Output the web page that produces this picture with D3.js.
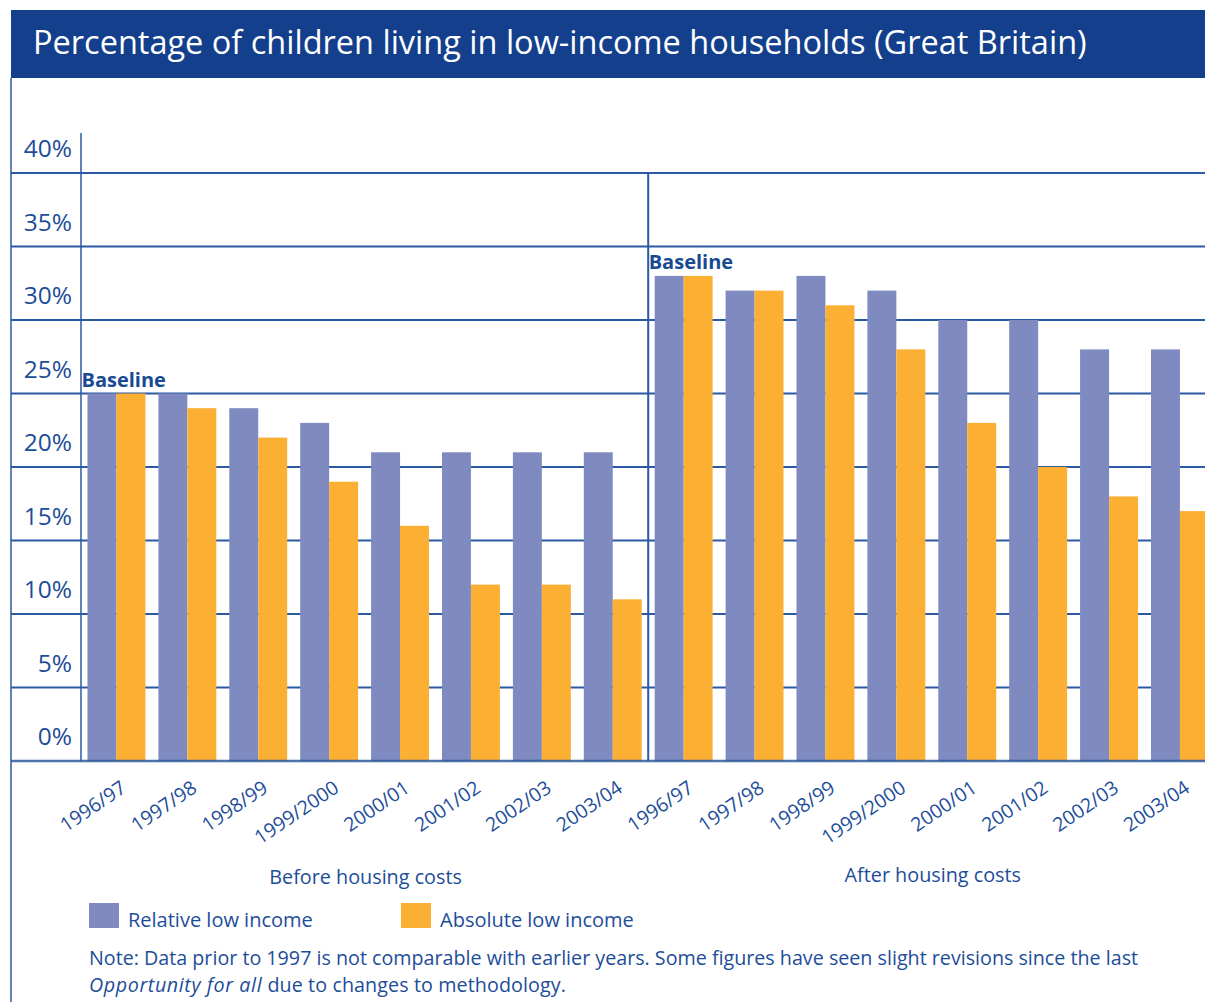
<!DOCTYPE html>
<html>
<head>
<meta charset="utf-8">
<script src="https://cdn.jsdelivr.net/npm/d3@7"></script>
<style>
  html, body { margin: 0; padding: 0; background: #fff; }
  svg { display: block; font-family: "Open Sans", "Noto Sans", sans-serif; }
</style>
</head>
<body>
<svg id="chart" width="1205" height="1002"></svg>
<script>
// Children in low-income households, Great Britain (% of children)
const years = ["1996/97", "1997/98", "1998/99", "1999/2000", "2000/01", "2001/02", "2002/03", "2003/04"];
const groups = ["Before housing costs", "After housing costs"];
const seriesNames = ["Relative low income", "Absolute low income"];
const relativeBHC = [25, 25, 24, 23, 21, 21, 21, 21];
const absoluteBHC = [25, 24, 22, 19, 16, 12, 12, 11];
const relativeAHC = [33, 32, 33, 32, 30, 30, 28, 28];
const absoluteAHC = [33, 32, 31, 28, 23, 20, 18, 17];
const yTicks = [0, 5, 10, 15, 20, 25, 30, 35, 40];
const baselineLabel = "Baseline";
const titleText = "Percentage of children living in low-income households (Great Britain)";
const noteLine1 = "Note: Data prior to 1997 is not comparable with earlier years. Some figures have seen slight revisions since the last";
const noteItalic = "Opportunity for all";
const noteRest = " due to changes to methodology.";

const seriesByGroup = [
  [relativeBHC, absoluteBHC],
  [relativeAHC, absoluteAHC]
];

const rows = [];
groups.forEach((g, gi) => {
  years.forEach((yr, i) => {
    rows.push({
      key: g + "|" + yr,
      group: g,
      year: yr,
      values: seriesNames.map((s, si) => ({ series: s, value: seriesByGroup[gi][si][i] }))
    });
  });
});

const BLUE = "#1d4d99";
const LINE = "#2b5aa3";
const NAVY = "#133f8c";
const colors = d3.scaleOrdinal().domain(seriesNames).range(["#7f8bc0", "#fbaf33"]);

const svg = d3.select("#chart");
const W = 1205;
const frameLeft = 11;
const axisX = 81;

const y = d3.scaleLinear().domain([0, 40]).range([761, 173]);
const x = d3.scaleBand()
  .domain(rows.map(d => d.key))
  .range([axisX, axisX + 16 * 70.9])
  .paddingInner(0.183)
  .paddingOuter(0.0915);
const xs = d3.scaleBand().domain(seriesNames).range([0, x.bandwidth()]);

// Title band
svg.append("rect").attr("x", frameLeft).attr("y", 10).attr("width", W - frameLeft).attr("height", 68).attr("fill", NAVY);
svg.append("text").attr("x", 33).attr("y", 54).attr("fill", "#fff")
  .attr("font-size", 32.5).text(titleText);

// Left frame line
svg.append("line").attr("x1", frameLeft).attr("x2", frameLeft).attr("y1", 78).attr("y2", 1002)
  .attr("stroke", LINE).attr("stroke-width", 1.5);

// Horizontal gridlines
svg.append("g").selectAll("line").data(yTicks.filter(t => t > 0)).join("line")
  .attr("x1", frameLeft).attr("x2", W)
  .attr("y1", d => y(d)).attr("y2", d => y(d))
  .attr("stroke", LINE).attr("stroke-width", 2);

// Tick labels sit just above their gridline
svg.append("g").selectAll("text").data(yTicks).join("text")
  .attr("x", 72).attr("y", d => y(d) - 16)
  .attr("text-anchor", "end").attr("fill", BLUE).attr("font-size", 24.5)
  .text(d => d + "%");

// Y axis line
svg.append("line").attr("x1", axisX).attr("x2", axisX).attr("y1", y(40) - 40).attr("y2", y(0))
  .attr("stroke", LINE).attr("stroke-width", 1.5);

// Divider between the two panels
const lastBHC = x(groups[0] + "|" + years[years.length - 1]) + x.bandwidth();
const firstAHC = x(groups[1] + "|" + years[0]);
const divX = (lastBHC + firstAHC) / 2;
svg.append("line").attr("x1", divX).attr("x2", divX).attr("y1", y(40)).attr("y2", y(0))
  .attr("stroke", LINE).attr("stroke-width", 2);

// Bars
const gBars = svg.append("g").selectAll("g").data(rows).join("g")
  .attr("transform", d => `translate(${x(d.key)},0)`);
gBars.selectAll("rect").data(d => d.values).join("rect")
  .attr("x", d => xs(d.series))
  .attr("width", xs.bandwidth())
  .attr("y", d => y(d.value))
  .attr("height", d => y(0) - y(d.value))
  .attr("fill", d => colors(d.series));

// Baseline labels over the first year of each panel
groups.forEach(g => {
  const k = g + "|" + years[0];
  const row = rows.find(r => r.key === k);
  const top = d3.max(row.values, v => v.value);
  svg.append("text").attr("x", x(k) - 6).attr("y", y(top) - 7)
    .attr("fill", "#174a92").attr("font-weight", "bold").attr("font-size", 20)
    .text(baselineLabel);
});

// X axis baseline
svg.append("line").attr("x1", frameLeft).attr("x2", W).attr("y1", y(0)).attr("y2", y(0))
  .attr("stroke", "#2d5a9e").attr("stroke-width", 2.5).attr("stroke-opacity", 0.85);

// Year labels
svg.append("g").selectAll("text").data(rows).join("text")
  .attr("transform", d => `translate(${x(d.key) + x.bandwidth() / 2 + 11},791) rotate(-34)`)
  .attr("text-anchor", "end").attr("fill", BLUE).attr("font-size", 19.5)
  .text(d => d.year);

// Panel labels
groups.forEach(g => {
  const a = x(g + "|" + years[0]);
  const b = x(g + "|" + years[years.length - 1]) + x.bandwidth();
  svg.append("text").attr("x", (a + b) / 2 + 1).attr("y", g === groups[0] ? 884 : 882)
    .attr("text-anchor", "middle").attr("fill", BLUE).attr("font-size", 19.8)
    .text(g);
});

// Legend
const legendX = [89, 401];
seriesNames.forEach((s, i) => {
  svg.append("rect").attr("x", legendX[i]).attr("y", 903).attr("width", 30).attr("height", 25)
    .attr("fill", colors(s));
  svg.append("text").attr("x", legendX[i] + 39).attr("y", 927)
    .attr("fill", BLUE).attr("font-size", 20).text(s);
});

// Note
svg.append("text").attr("x", 89).attr("y", 965).attr("fill", BLUE).attr("font-size", 19.7).text(noteLine1);
const n2 = svg.append("text").attr("x", 89).attr("y", 992).attr("fill", BLUE).attr("font-size", 19.7);
n2.append("tspan").attr("font-style", "italic").attr("letter-spacing", 0.6).text(noteItalic);
n2.append("tspan").attr("letter-spacing", 0.1).text(noteRest);
</script>
</body>
</html>
